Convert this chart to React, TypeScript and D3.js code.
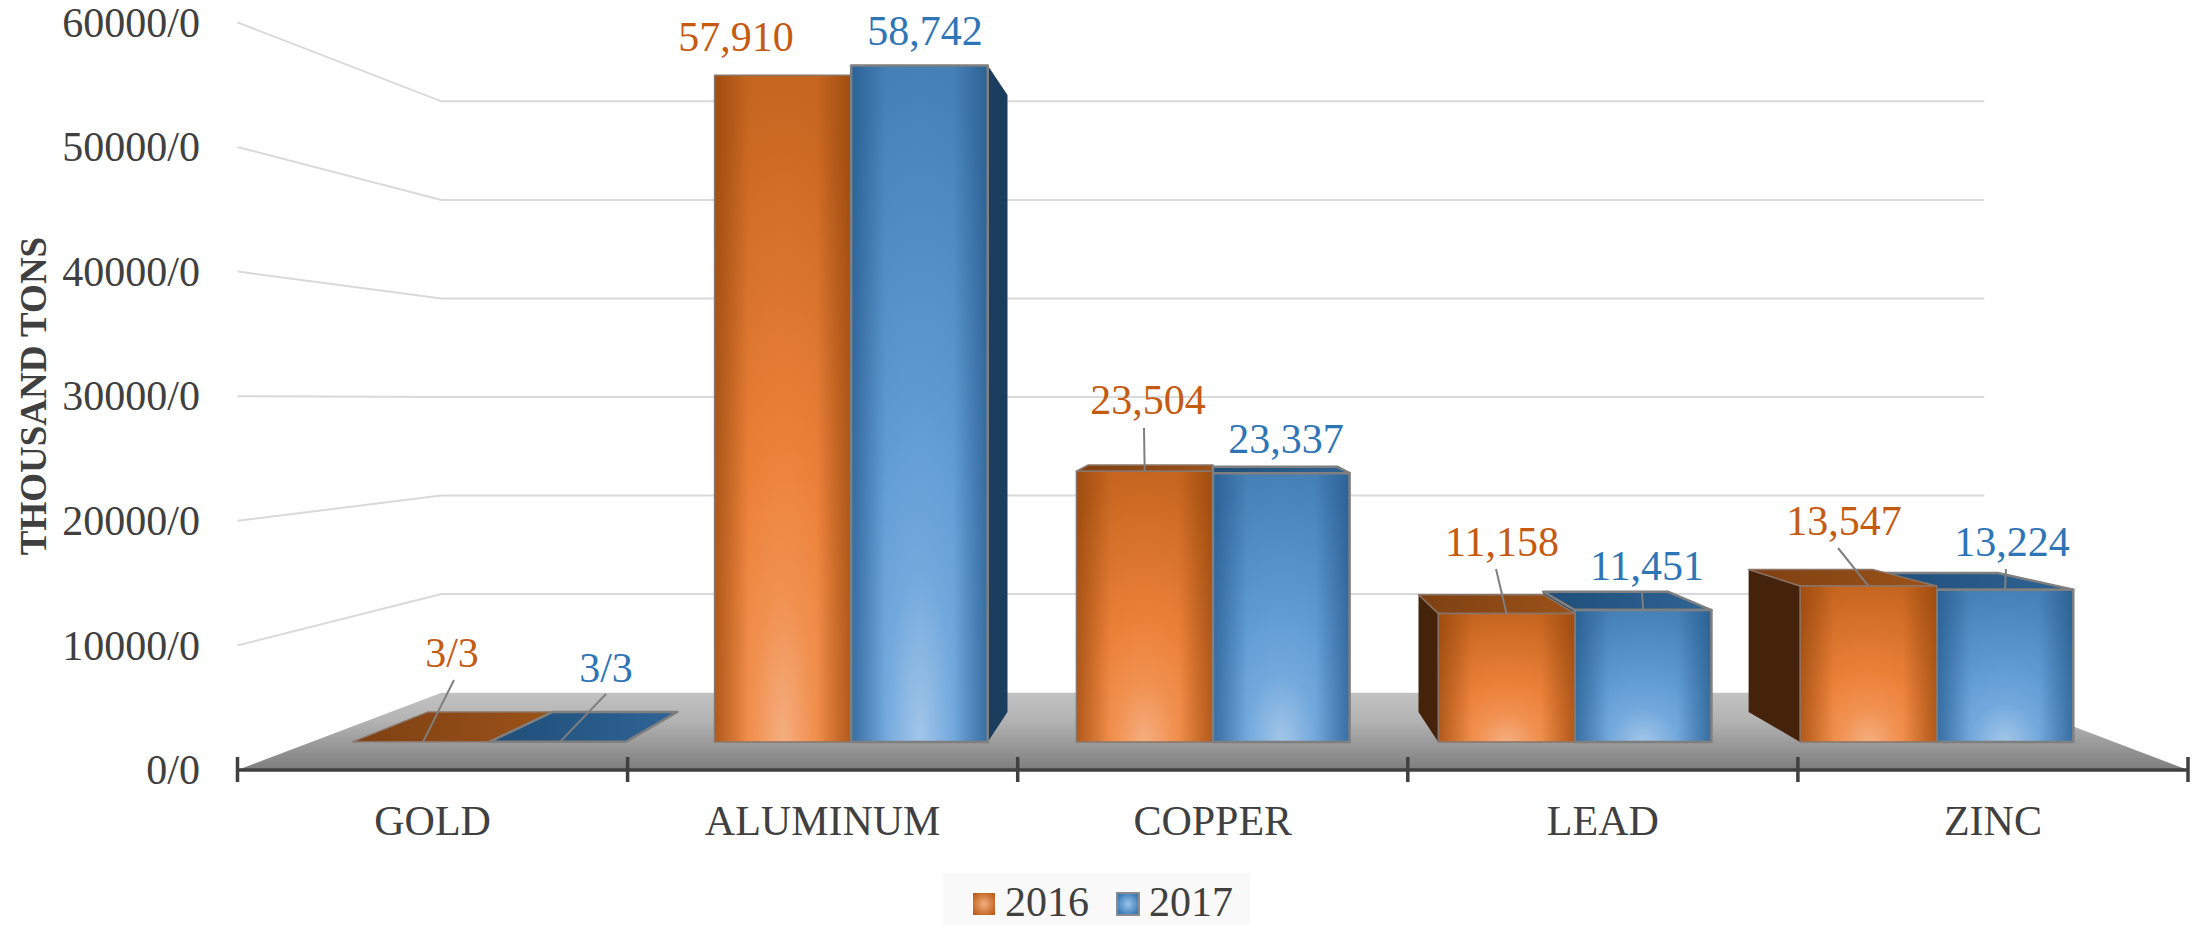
import React, { useEffect, useRef } from "react";
import * as d3 from "d3";

const categories = ["GOLD", "ALUMINUM", "COPPER", "LEAD", "ZINC"];
const seriesNames = ["2016", "2017"];
const values2016 = [3.3, 57910, 23504, 11158, 13547];
const values2017 = [3.3, 58742, 23337, 11451, 13224];
const labels2016 = ["3/3", "57,910", "23,504", "11,158", "13,547"];
const labels2017 = ["3/3", "58,742", "23,337", "11,451", "13,224"];
const yTicks = [0, 10000, 20000, 30000, 40000, 50000, 60000];

// layout, measured on the reference
const W = 2192;
const H = 925;
const floorY = 770;
const topY = 22.4;
const leftX = 237.5;
const rightX = 2188;
const vp = { x: 1213, y: 400 }; // vanishing point of the 3d box
const wallDepth = 0.791;
const barFront = 0.924;
const barBack = 0.843;
const fontSize = 42;
const textColor = "#404040";
const labelColors = ["#C55A11", "#2E75B6"];
const sideColors = ["#45220A", "#1B3E5F"];

// label centre and leader start for each series / category
const labelPos2016 = [[452, 653], [736, 37], [1148, 400], [1502, 542], [1844, 521]];
const labelPos2017 = [[606, 668], [925, 31], [1286, 439], [1647, 566], [2012, 542]];
const leader2016: (number[] | null)[] = [[454, 680], null, [1144, 428], [1496, 569], [1838, 548]];
const leader2017: (number[] | null)[] = [[606, 694], null, null, [1642, 593], [2006, 569]];

const project = (x: number, y: number, s: number): [number, number] => [
  vp.x + (x - vp.x) * s,
  vp.y + (y - vp.y) * s,
];

const App = () => {
  const svgRef = useRef<SVGSVGElement>(null);

  useEffect(() => {
    const svg = d3.select(svgRef.current);
    svg.selectAll("*").remove();

    // bars sit on a slightly wider band than the axis ticks
    const x = d3.scaleBand().domain(categories).range([234, 2192]).paddingInner(0.245).paddingOuter(0.1225);
    const xEdge = d3.scaleBand().domain(categories).range([leftX, rightX]);
    const xSub = d3.scaleBand().domain(seriesNames).range([0, x.bandwidth()]);
    const y = d3.scaleLinear().domain([0, 60000]).range([floorY, topY]);

    const defs = svg.append("defs");

    const addStops = (grad: any, stops: [number, string, number?][]) => {
      stops.forEach(([o, c, a]) => {
        grad.append("stop").attr("offset", o).attr("stop-color", c).attr("stop-opacity", a ?? 1);
      });
    };
    const radial = (id: string, cy: string, r: string, stops: [number, string][]) =>
      addStops(defs.append("radialGradient").attr("id", id).attr("cx", "50%").attr("cy", cy).attr("r", r), stops);

    radial("front2016", "100%", "100%", [[0, "#F4AE80"], [0.22, "#F19150"], [0.45, "#EB8139"], [1, "#C5651F"]]);
    radial("front2017", "100%", "100%", [[0, "#A3C6E7"], [0.25, "#72A9DD"], [0.5, "#5F9BD2"], [1, "#4580B6"]]);
    radial("swatch2016", "50%", "60%", [[0, "#F4AE80"], [1, "#C0601C"]]);
    radial("swatch2017", "50%", "60%", [[0, "#9DC3E6"], [1, "#2E75B6"]]);

    const edge = (id: string, c: string, a: number) =>
      addStops(defs.append("linearGradient").attr("id", id), [[0, c, a], [0.25, c, 0], [0.75, c, 0], [1, c, a]]);
    edge("edge2016", "#7A3500", 0.5);
    edge("edge2017", "#174A7C", 0.55);

    const top = (id: string, a: string, b: string) =>
      addStops(defs.append("linearGradient").attr("id", id), [[0, a], [1, b]]);
    top("top2016", "#7E4012", "#9C5219");
    top("top2017", "#1F4E79", "#2F6496");

    const floorGrad = defs.append("linearGradient").attr("id", "floor").attr("x2", 0).attr("y2", 1);
    addStops(floorGrad, [[0, "#C2C2C2"], [0.35, "#B4B4B4"], [1, "#7E7E7E"]]);

    // gridlines on left wall and back wall
    yTicks.slice(1).forEach((t) => {
      const [bx, by] = project(leftX, y(t), wallDepth);
      const [ex] = project(rightX, y(t), wallDepth);
      svg.append("path")
        .attr("d", d3.line()([[leftX, y(t)], [bx, by], [ex, by]]))
        .attr("fill", "none")
        .attr("stroke", "#D9D9D9")
        .attr("stroke-width", 2);
    });

    // floor
    svg.append("polygon")
      .attr("points", [
        [leftX, floorY],
        [rightX, floorY],
        project(rightX, floorY, wallDepth),
        project(leftX, floorY, wallDepth),
      ].join(" "))
      .attr("fill", "url(#floor)");

    // bars, outermost first so the ones nearer the centre paint over them
    const bars = categories.flatMap((c, i) =>
      seriesNames.map((s, si) => {
        const x0 = x(c)! + xSub(s)!;
        const x1 = x0 + xSub.bandwidth();
        const v = si === 0 ? values2016[i] : values2017[i];
        return { s, si, x0, x1, yv: y(v) };
      })
    );
    bars.sort((a, b) => Math.abs((b.x0 + b.x1) / 2 - vp.x) - Math.abs((a.x0 + a.x1) / 2 - vp.x));

    const stroke = (sel: any, si: number) =>
      sel.attr("stroke", si === 1 ? "#7F7F7F" : "#8A7568").attr("stroke-width", si === 1 ? 2.5 : 1.5).attr("stroke-linejoin", "round");

    bars.forEach((b) => {
      const fl = project(b.x0, b.yv, barFront);
      const fr = project(b.x1, b.yv, barFront);
      const bl = project(b.x0, b.yv, barBack);
      const br = project(b.x1, b.yv, barBack);
      const fl0 = project(b.x0, floorY, barFront);
      const fr0 = project(b.x1, floorY, barFront);
      const bl0 = project(b.x0, floorY, barBack);
      const br0 = project(b.x1, floorY, barBack);

      if (fl[0] > vp.x) {
        svg.append("polygon").attr("points", [bl, fl, fl0, bl0].join(" ")).attr("fill", sideColors[b.si]);
      }
      if (fr[0] < vp.x) {
        svg.append("polygon").attr("points", [fr, br, br0, fr0].join(" ")).attr("fill", sideColors[b.si]);
      }
      if (b.yv > vp.y) {
        stroke(svg.append("polygon").attr("points", [bl, br, fr, fl].join(" ")).attr("fill", `url(#top${b.s})`), b.si);
      }
      const h = fl0[1] - fl[1];
      if (h > 2) {
        const rx = fl[0];
        const w = fr[0] - fl[0];
        svg.append("rect").attr("x", rx).attr("y", fl[1]).attr("width", w).attr("height", h).attr("fill", `url(#front${b.s})`);
        stroke(
          svg.append("rect").attr("x", rx).attr("y", fl[1]).attr("width", w).attr("height", h).attr("fill", `url(#edge${b.s})`),
          b.si
        );
      }
    });

    // x axis
    svg.append("line")
      .attr("x1", leftX).attr("x2", rightX).attr("y1", floorY).attr("y2", floorY)
      .attr("stroke", textColor).attr("stroke-width", 3.5);
    [...categories.map((c) => xEdge(c)!), rightX].forEach((t) => {
      svg.append("line")
        .attr("x1", t).attr("x2", t).attr("y1", floorY - 13).attr("y2", floorY + 12)
        .attr("stroke", textColor).attr("stroke-width", 3.5);
    });

    const text = (tx: number, ty: number, str: string, color = textColor, anchor = "middle") =>
      svg.append("text")
        .attr("x", tx)
        .attr("y", ty + fontSize * 0.338)
        .attr("text-anchor", anchor)
        .attr("fill", color)
        .style("font-family", "'Liberation Serif'")
        .style("font-size", `${fontSize}px`)
        .text(str);

    categories.forEach((c) => {
      text(xEdge(c)! + xEdge.bandwidth() / 2, 821, c);
    });

    yTicks.forEach((t) => {
      text(200, y(t), `${t}/0`, textColor, "end");
    });

    svg.append("text")
      .attr("transform", `translate(46,396) rotate(-90)`)
      .attr("text-anchor", "middle")
      .attr("fill", textColor)
      .style("font-family", "'Liberation Serif'")
      .style("font-size", "37px")
      .style("font-weight", "bold")
      .text("THOUSAND TONS");

    // leader lines and value labels
    seriesNames.forEach((s, si) => {
      const pos = si === 0 ? labelPos2016 : labelPos2017;
      const lead = si === 0 ? leader2016 : leader2017;
      const vals = si === 0 ? values2016 : values2017;
      const labs = si === 0 ? labels2016 : labels2017;
      categories.forEach((c, i) => {
        const l = lead[i];
        if (l) {
          const cx = x(c)! + xSub(s)! + xSub.bandwidth() / 2;
          let end = project(cx, y(vals[i]), barFront);
          if (i === 0) end = [l[0] - (si === 0 ? 31 : 46), end[1]];
          svg.append("line")
            .attr("x1", l[0]).attr("y1", l[1]).attr("x2", end[0]).attr("y2", end[1])
            .attr("stroke", "#7F7F7F").attr("stroke-width", 2);
        }
        text(pos[i][0], pos[i][1], labs[i], labelColors[si]);
      });
    });

    // legend
    svg.append("rect").attr("x", 943).attr("y", 873).attr("width", 307).attr("height", 52).attr("fill", "#F9F9F9");
    [973, 1117].forEach((lx, si) => {
      svg.append("rect")
        .attr("x", lx).attr("y", 893).attr("width", 22).attr("height", 22)
        .attr("fill", `url(#swatch${seriesNames[si]})`)
        .attr("stroke", si === 1 ? "#8C8C8C" : "none")
        .attr("stroke-width", 2);
      text(lx + 32, 902, seriesNames[si], textColor, "start");
    });
  }, []);

  return (
    <svg
      ref={svgRef}
      width={W}
      height={H}
      viewBox={`0 0 ${W} ${H}`}
      style={{ position: "absolute", left: 0, top: 0, background: "#fff" }}
    />
  );
};

export default App;
